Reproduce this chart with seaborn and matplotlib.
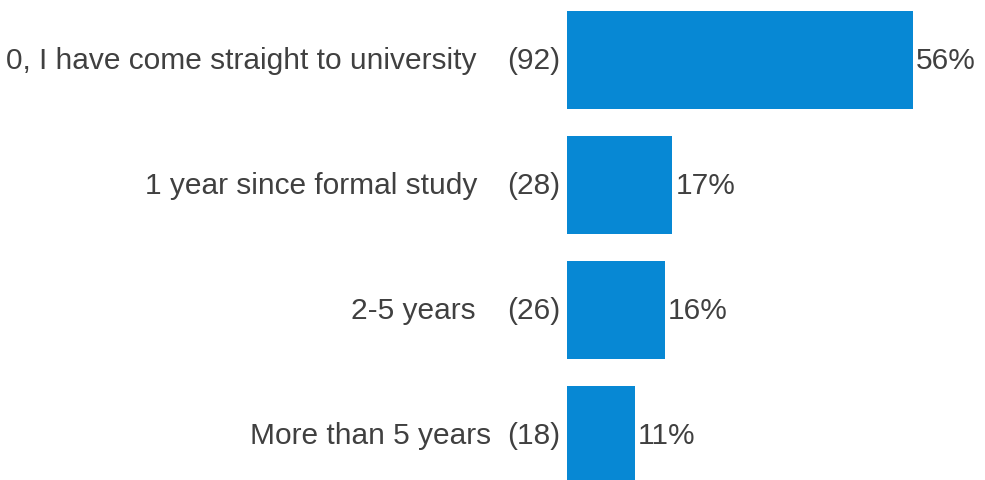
import matplotlib
matplotlib.use("Agg")
import matplotlib.pyplot as plt
import seaborn as sns
import pandas as pd

categories = [
    "0, I have come straight to university",
    "1 year since formal study",
    "2-5 years",
    "More than 5 years",
]
counts = [92, 28, 26, 18]
percent_labels = ["56%", "17%", "16%", "11%"]

total = sum(counts)
df = pd.DataFrame({
    "category": categories,
    "pct": [c / total * 100 for c in counts],
})

sns.set_theme(style="white")
plt.rcParams["font.family"] = ["Liberation Sans", "DejaVu Sans"]

W, H, DPI = 985, 481, 100
fig = plt.figure(figsize=(W / DPI, H / DPI), dpi=DPI)
ax = fig.add_axes([567 / W, 0, 1 - 567 / W, 1])

bar_color = "#0788d4"
text_color = "#404040"

sns.barplot(data=df, x="pct", y="category", orient="h", color=bar_color,
            width=0.79, saturation=1, linewidth=0, ax=ax)

px_per_unit = 6.168
ax.set_xlim(0, (W - 567) / px_per_unit)
ax.set_ylim(3.36, -0.488)
ax.axis("off")

fs = 21.5
label_gap_px = [90, 90, 91, 76]
for i, (cat, n, p) in enumerate(zip(categories, counts, percent_labels)):
    v = df["pct"][i]
    ax.annotate(f"({n})", xy=(0, i), xytext=(-7 * 0.72, 0), textcoords="offset points",
                ha="right", va="center", fontsize=fs, color=text_color,
                annotation_clip=False)
    ax.annotate(cat, xy=(0, i), xytext=(-label_gap_px[i] * 0.72, 0), textcoords="offset points",
                ha="right", va="center", fontsize=fs, color=text_color,
                annotation_clip=False)
    ax.annotate(p, xy=(v, i), xytext=(3 * 0.72, 0), textcoords="offset points",
                ha="left", va="center", fontsize=fs, color=text_color,
                annotation_clip=False)

fig.savefig("out.png", dpi=DPI)
